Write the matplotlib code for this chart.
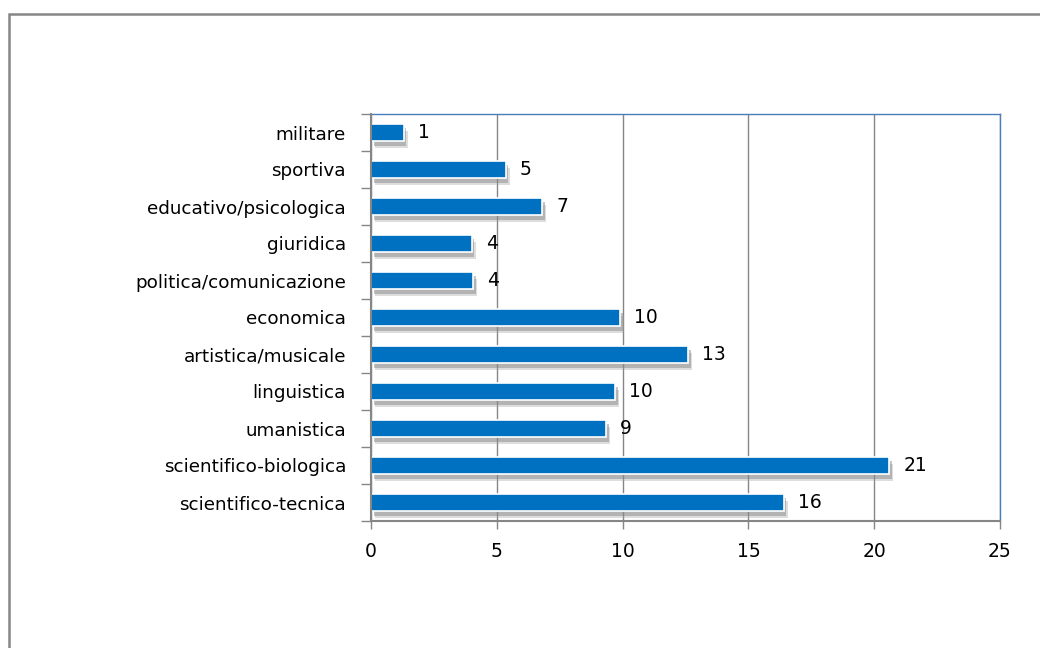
import matplotlib
matplotlib.use("Agg")
import matplotlib.pyplot as plt
import matplotlib.patheffects as pe
from matplotlib.patches import Rectangle
import numpy as np

categories = ["scientifico-tecnica", "scientifico-biologica", "umanistica", "linguistica",
              "artistica/musicale", "economica", "politica/comunicazione", "giuridica",
              "educativo/psicologica", "sportiva", "militare"]
values = [16.4, 20.6, 9.35, 9.7, 12.6, 9.9, 4.05, 4.0, 6.8, 5.35, 1.3]
value_labels = ["16", "21", "9", "10", "13", "10", "4", "4", "7", "5", "1"]
x_ticks = [0, 5, 10, 15, 20, 25]

plt.rcParams['font.family'] = ['DejaVu Sans']
fig = plt.figure(figsize=(10.4, 6.48), dpi=100)
ax = fig.add_axes([371/1040, 1-521/648, 629/1040, 407/648])

y = np.arange(len(categories))
bars = ax.barh(y, values, height=0.48, color="#0070C0", edgecolor="white", linewidth=1.2, zorder=3)
for b in bars:
    b.set_path_effects([
        pe.SimplePatchShadow(offset=(3, -5), shadow_rgbFace="#a0a0a0", alpha=0.35),
        pe.SimplePatchShadow(offset=(2, -3), shadow_rgbFace="#808080", alpha=0.45),
        pe.Normal()])

for yi, v, lab in zip(y, values, value_labels):
    ax.annotate(lab, (v, yi), xytext=(14, 0), textcoords="offset pixels",
                va="center", ha="left", fontsize=13.5, color="black")

ax.set_xlim(0, 25)
ax.set_ylim(-0.5, len(categories) - 0.5)
ax.set_xticks(x_ticks)
ax.set_xticklabels([str(t) for t in x_ticks], fontsize=13.5)
ax.set_yticks(y)
ax.set_yticklabels(categories, fontsize=13.2)
ax.set_yticks(np.arange(len(categories) + 1) - 0.5, minor=True)
ax.tick_params(axis="y", which="major", length=0, pad=18)
ax.tick_params(axis="y", which="minor", length=7, width=1, color="#868686", direction="out")
ax.tick_params(axis="x", which="major", length=6, width=1, color="#868686", pad=9)
ax.xaxis.grid(True, color="#868686", linewidth=1, zorder=0)
ax.set_axisbelow(True)

for s in ["left", "bottom"]:
    ax.spines[s].set_color("#868686")
    ax.spines[s].set_linewidth(1.5)
for s in ["top", "right"]:
    ax.spines[s].set_color("#4A7EBB")
    ax.spines[s].set_linewidth(1)
ax.spines["left"].set_zorder(4)

border = Rectangle((9/1040, -0.1), 1.2, 1 - 14/648 + 0.1, transform=fig.transFigure,
                   fill=False, edgecolor="#868686", linewidth=1.8, clip_on=False)
fig.patches.append(border)

fig.savefig("out.png", dpi=100)
